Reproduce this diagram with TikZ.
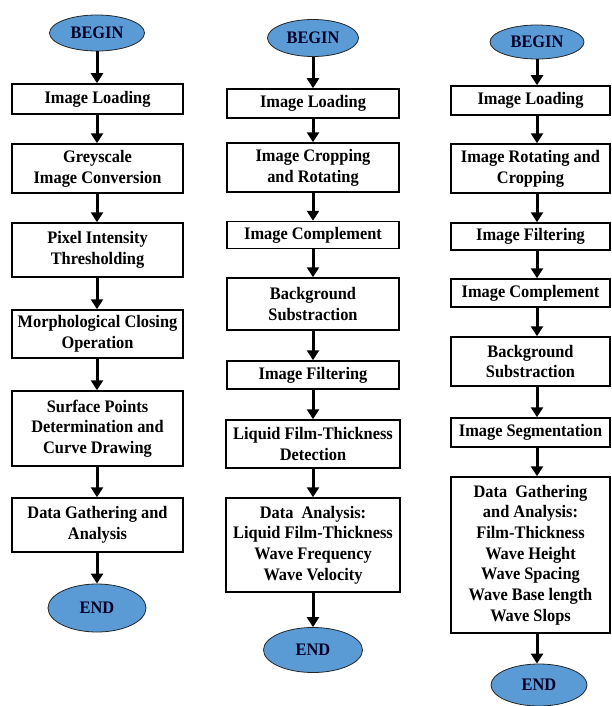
\documentclass[tikz,border=0pt]{standalone}
\usepackage{fontspec}
\setmainfont[FakeStretch=0.93]{Liberation Serif}
\usetikzlibrary{shapes.geometric,arrows.meta}
\definecolor{termblue}{HTML}{5B9BD5}
\tikzset{
  lbl/.style={font=\fontsize{17.6}{20.7}\selectfont\bfseries},
  proc/.style={lbl, draw, line width=1.5pt, fill=white, align=center, inner sep=0pt},
  term/.style={lbl, ellipse, draw=black!85, line width=0.8pt, fill=termblue, inner sep=0pt, text=black!85!blue},
  arr/.style={line width=3pt, -{Triangle[length=10pt,width=12pt]}},
}
\begin{document}
\begin{tikzpicture}[x=1pt,y=-1pt]
\useasboundingbox (0,0) rectangle (611,706);
% ---------------- column 1 ----------------
\node[term, minimum width=95, minimum height=36] (a0) at (97,33) {BEGIN};
\node[proc, minimum width=171, minimum height=30] (a1) at (97.5,99) {Image Loading};
\node[proc, minimum width=171, minimum height=49] (a2) at (97.5,168.5) {Greyscale\\Image Conversion};
\node[proc, minimum width=171, minimum height=54] (a3) at (97.5,250) {Pixel Intensity\\Thresholding};
\node[proc, minimum width=171, minimum height=48] (a4) at (97.5,334) {Morphological Closing\\Operation};
\node[proc, minimum width=171, minimum height=75] (a5) at (97.5,428.5) {Surface Points\\Determination and\\Curve Drawing};
\node[proc, minimum width=171, minimum height=54] (a6) at (97.5,525) {Data Gathering and\\Analysis};
\node[term, minimum width=98, minimum height=48] (a7) at (97,608) {END};
\foreach \i/\j in {a0/a1,a1/a2,a2/a3,a3/a4,a4/a5,a5/a6,a6/a7}
  \draw[arr] (\i.south -| a0) -- (\j.north -| a0);
% ---------------- column 2 ----------------
\node[term, minimum width=91, minimum height=37] (b0) at (313,38) {BEGIN};
\node[proc, minimum width=172, minimum height=29] (b1) at (313,103.5) {Image Loading};
\node[proc, minimum width=172, minimum height=49] (b2) at (313,167.5) {Image Cropping\\and Rotating};
\node[proc, minimum width=172, minimum height=27] (b3) at (313,235) {Image Complement};
\node[proc, minimum width=172, minimum height=52] (b4) at (313,304) {Background\\Substraction};
\node[proc, minimum width=172, minimum height=28] (b5) at (313,375) {Image Filtering};
\node[proc, minimum width=174, minimum height=48] (b6) at (313,444) {Liquid Film-Thickness\\Detection};
\node[proc, minimum width=174, minimum height=94] (b7) at (313,545) {Data\ \ Analysis:\\Liquid Film-Thickness\\Wave Frequency\\Wave Velocity};
\node[term, minimum width=99, minimum height=45] (b8) at (313,650) {END};
\foreach \i/\j in {b0/b1,b1/b2,b2/b3,b3/b4,b4/b5,b5/b6,b6/b7,b7/b8}
  \draw[arr] (\i.south -| b0) -- (\j.north -| b0);
% ---------------- column 3 ----------------
\node[term, minimum width=94, minimum height=34] (c0) at (537,42) {BEGIN};
\node[proc, minimum width=159, minimum height=29] (c1) at (530.5,100.5) {Image Loading};
\node[proc, minimum width=159, minimum height=49] (c2) at (530.5,168.5) {Image Rotating and\\Cropping};
\node[proc, minimum width=159, minimum height=27] (c3) at (530.5,236.5) {Image Filtering};
\node[proc, minimum width=159, minimum height=28] (c4) at (530.5,293) {Image Complement};
\node[proc, minimum width=159, minimum height=49] (c5) at (530.5,361.5) {Background\\Substraction};
\node[proc, minimum width=159, minimum height=29] (c6) at (530.5,432.5) {Image Segmentation};
\node[proc, minimum width=159, minimum height=156] (c7) at (530.5,555) {Data\ \ Gathering\\and Analysis:\\Film-Thickness\\Wave Height\\Wave Spacing\\Wave Base length\\Wave Slops};
\node[term, minimum width=96, minimum height=42] (c8) at (539,685) {END};
\foreach \i/\j in {c0/c1,c1/c2,c2/c3,c3/c4,c4/c5,c5/c6,c6/c7,c7/c8}
  \draw[arr] (\i.south -| c0) -- (\j.north -| c0);
\end{tikzpicture}
\end{document}
